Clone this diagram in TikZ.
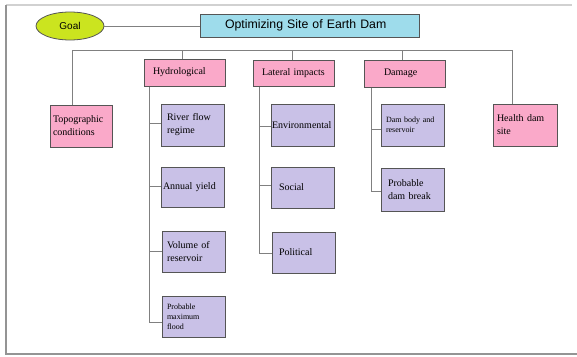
\documentclass[tikz,border=0pt]{standalone}
\usepackage{fontspec}
\setmainfont{Liberation Serif}
\newfontfamily\arialf{Liberation Sans}
\usetikzlibrary{shapes.geometric}
\definecolor{pinkb}{HTML}{FAA9C9}
\definecolor{lav}{HTML}{C9C1E7}
\definecolor{skyb}{HTML}{9EDCEB}
\definecolor{limeg}{HTML}{CBE41F}
\definecolor{edgec}{HTML}{555555}
\definecolor{connc}{HTML}{808080}
\begin{document}
\begin{tikzpicture}[x=1pt,y=-1pt,
  box/.style={draw=edgec, line width=1pt, align=left, inner ysep=0pt,
              font=\fontsize{10}{13}\selectfont},
  pbox/.style={box, fill=pinkb},
  lbox/.style={box, fill=lav},
  conn/.style={draw=connc, line width=0.9pt}]
\useasboundingbox (0,0) rectangle (577,356);
% frame
\draw[black!18, line width=1.5pt] (6,5) -- (572,5);
\draw[black!42, line width=1.2pt] (6,5) -- (6,354) -- (577,354);
% top
\node[ellipse, draw=edgec, fill=limeg, line width=0.8pt, minimum width=68, minimum height=28, inner sep=0pt,
      font=\arialf\fontsize{10}{12}\selectfont] (goal) at (70,26) {Goal};
\node[draw=edgec, fill=skyb, line width=1pt, minimum height=23, inner ysep=0pt, inner xsep=25,
      text width=169, align=left,
      font=\arialf\fontsize{12.3}{14}\selectfont] (title) at (309.5,25.5) {Optimizing Site of Earth Dam};
% level 1
\node[pbox, minimum height=42, text width=56, inner xsep=3] (topo) at (81,126) {Topographic\\conditions};
\node[pbox, minimum height=27, text width=63, inner xsep=9] (hydro) at (184.5,72.5) {Hydrological};
\node[pbox, minimum height=26, text width=63, inner xsep=9] (lat) at (293.5,73) {Lateral impacts};
\node[pbox, minimum height=27, text width=41, inner xsep=20] (dmg) at (404.5,73.5) {Damage};
\node[pbox, minimum height=42, text width=56, inner xsep=4] (health) at (525,125) {Health dam\\site};
% hydrological children
\node[lbox, minimum height=42, text width=51, inner xsep=6] (river) at (192.5,125) {River flow\\regime};
\node[lbox, minimum height=40, text width=59, inner xsep=2] (annual) at (192.5,187) {Annual yield};
\node[lbox, minimum height=41, text width=53, inner xsep=5] (volume) at (193.5,251.5) {Volume of\\reservoir};
\node[lbox, minimum height=41, text width=53, inner xsep=5, font=\fontsize{8}{10}\selectfont] (pmf) at (193.5,316.5) {Probable\\maximum\\flood};
% lateral children
\node[lbox, minimum height=42, text width=61, inner xsep=1] (env) at (302.5,125) {Environmental};
\node[lbox, minimum height=41, text width=47, inner xsep=8] (social) at (302.5,187.5) {Social};
\node[lbox, minimum height=41, text width=49, inner xsep=7] (pol) at (303.5,252.5) {Political};
% damage children
\node[lbox, minimum height=42, text width=53, inner xsep=5, font=\fontsize{8}{10}\selectfont] (dambody) at (412.5,125) {Dam body and\\reservoir};
\node[lbox, minimum height=43, text width=49, inner xsep=7] (dambreak) at (412.5,189.5) {Probable\\dam break};
% connectors
\draw[conn] (goal.east) -- (title.west |- goal.east);
\coordinate (bL) at (72,50);
\coordinate (bR) at (512,50);
\draw[conn] (bL |- topo.north) -- (bL) -- (bR) -- (bR |- health.north);
\draw[conn] ([xshift=-2.5]hydro.north) -- ([xshift=-2.5]hydro.north |- bL);
\draw[conn] ([xshift=-1.5]lat.north) -- ([xshift=-1.5]lat.north |- bL);
\draw[conn] ([xshift=-2.5]dmg.north) -- ([xshift=-2.5]dmg.north |- bL);
% hydrological spine
\coordinate (hs) at ([xshift=6]hydro.south west);
\draw[conn] (hs) |- ([yshift=-5.5]pmf.west);
\draw[conn] ([yshift=2]river.west) -- ([yshift=2]river.west -| hs);
\draw[conn] ([yshift=1]annual.west) -- ([yshift=1]annual.west -| hs);
\draw[conn] ([yshift=0.5]volume.west) -- ([yshift=0.5]volume.west -| hs);
% lateral spine
\coordinate (ls) at ([xshift=7]lat.south west);
\draw[conn] (ls) |- ([yshift=-0.5]pol.west);
\draw[conn] ([yshift=-1]env.west) -- ([yshift=-1]env.west -| ls);
\draw[conn] ([yshift=2.5]social.west) -- ([yshift=2.5]social.west -| ls);
% damage spine
\coordinate (ds) at ([xshift=8]dmg.south west);
\draw[conn] (ds) |- ([yshift=-1.5]dambreak.west);
\draw[conn] ([yshift=-4]dambody.west) -- ([yshift=-4]dambody.west -| ds);
\end{tikzpicture}
\end{document}
